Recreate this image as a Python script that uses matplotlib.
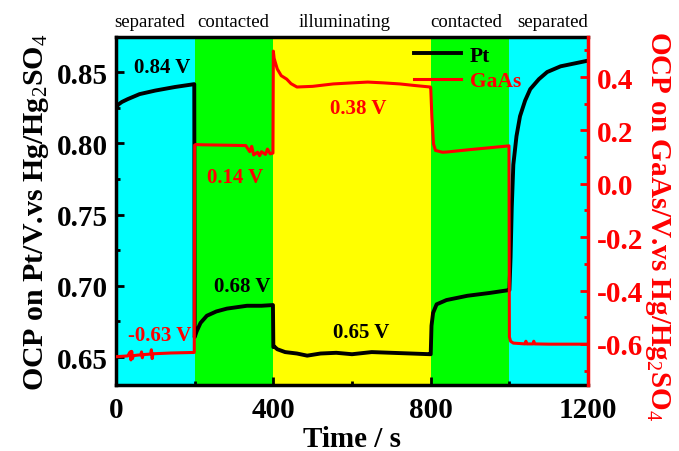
import matplotlib
matplotlib.use("Agg")
import matplotlib.pyplot as plt
from matplotlib.ticker import MultipleLocator

plt.rcParams['font.family'] = ['Liberation Serif', 'DejaVu Serif']
plt.rcParams['mathtext.fontset'] = 'custom'
plt.rcParams['mathtext.rm'] = 'Liberation Serif'
plt.rcParams['mathtext.it'] = 'Liberation Serif:italic'
plt.rcParams['mathtext.bf'] = 'Liberation Serif:bold'
plt.rcParams['axes.unicode_minus'] = False

# Stages of the experiment (start, end, colour, label)
stage_edges = [0, 200, 400, 800, 1000, 1200]
stage_colors = ['#00FFFF', '#00FF00', '#FFFF00', '#00FF00', '#00FFFF']
stage_names = ['separated', 'contacted', 'illuminating', 'contacted', 'separated']
stage_label_x = [85, 297, 580, 890, 1110]

# Pt open-circuit potential (V vs Hg/Hg2SO4)
pt_time = [0, 5, 15, 30, 60, 100, 150, 199,
           200, 205, 215, 231, 255, 282, 333, 370, 399,
           400, 402, 410, 430, 460, 486, 520, 560, 600, 650, 700, 750, 799,
           800, 802, 806, 815, 840, 893, 950, 999,
           1000, 1003, 1006, 1010, 1018, 1027, 1040, 1053, 1075, 1096, 1130, 1165, 1200]
pt_ocp = [0.824, 0.827, 0.829, 0.831, 0.8345, 0.837, 0.8395, 0.8415,
          0.664, 0.668, 0.674, 0.679, 0.682, 0.684, 0.686, 0.686, 0.6865,
          0.657, 0.6575, 0.6555, 0.6535, 0.6525, 0.651, 0.6525, 0.653, 0.652, 0.6535, 0.653, 0.6525, 0.652,
          0.652, 0.672, 0.681, 0.687, 0.690, 0.693, 0.695, 0.697,
          0.697, 0.72, 0.755, 0.785, 0.805, 0.819, 0.830, 0.838, 0.845, 0.850, 0.854, 0.856, 0.858]

# GaAs open-circuit potential (V vs Hg/Hg2SO4)
gaas_time = [0, 10, 20, 30, 36, 38, 40, 42, 44, 55, 63, 65, 67, 69, 80, 88, 90, 92, 94, 110, 140, 170, 199,
             200, 203, 220, 260, 300, 330, 340, 345, 350, 360, 365, 370, 380, 385, 392, 399,
             400, 402, 410, 420, 434, 445, 460, 500, 552, 600, 640, 680, 722, 760, 799,
             800, 803, 807, 812, 830, 841, 900, 950, 999,
             1000, 1003, 1010, 1030, 1040, 1042, 1044, 1060, 1062, 1064, 1100, 1150, 1200]
gaas_ocp = [-0.648, -0.647, -0.646, -0.645, -0.630, -0.660, -0.628, -0.655, -0.644, -0.642, -0.641, -0.630,
            -0.652, -0.640, -0.639, -0.638, -0.622, -0.655, -0.637, -0.636, -0.634, -0.633, -0.632,
            0.145, 0.147, 0.146, 0.145, 0.144, 0.143, 0.12, 0.14, 0.108, 0.118, 0.105, 0.12, 0.11, 0.13, 0.112, 0.115,
            0.497, 0.47, 0.43, 0.405, 0.392, 0.375, 0.3625, 0.365, 0.374, 0.378, 0.381, 0.378, 0.374, 0.368, 0.3625,
            0.36, 0.25, 0.15, 0.125, 0.118, 0.119, 0.128, 0.135, 0.142,
            -0.574, -0.59, -0.597, -0.599, -0.600, -0.590, -0.600, -0.600, -0.590, -0.600, -0.601, -0.601, -0.601]

# In-plot value annotations: (text, time, left-axis position, colour)
notes = [('0.84 V', 117, 0.8536, 'black'),
         ('0.14 V', 303, 0.7764, 'red'),
         ('0.38 V', 616, 0.8250, 'red'),
         ('0.68 V', 320, 0.7000, 'black'),
         ('-0.63 V', 112, 0.6655, 'red'),
         ('0.65 V', 623, 0.6676, 'black')]

fig = plt.figure(figsize=(6.79, 4.52), dpi=100)
ax = fig.add_axes([0.1708, 0.146, 0.6953, 0.770])
ax2 = ax.twinx()

for i in range(len(stage_colors)):
    ax.axvspan(stage_edges[i], stage_edges[i + 1], color=stage_colors[i], lw=0, zorder=0)
    ax.text(stage_label_x[i], 1.02, stage_names[i], transform=ax.get_xaxis_transform(),
            ha='center', va='bottom', fontsize=13.5)

l1, = ax.plot(pt_time, pt_ocp, color='black', lw=2.8, zorder=3, label='Pt')
l2, = ax2.plot(gaas_time, gaas_ocp, color='red', lw=2.2, zorder=3, label='GaAs')

ax.set_xlim(0, 1200)
ax2.set_ylim(-0.754, 0.550)

ax.xaxis.set_major_locator(MultipleLocator(400))
ax.xaxis.set_minor_locator(MultipleLocator(200))
ax.yaxis.set_major_locator(MultipleLocator(0.05))
ax.yaxis.set_minor_locator(MultipleLocator(0.025))
ax2.yaxis.set_major_locator(MultipleLocator(0.2))
ax2.yaxis.set_minor_locator(MultipleLocator(0.1))
ax.yaxis.set_major_formatter(matplotlib.ticker.FormatStrFormatter('%.2f'))
ax2.yaxis.set_major_formatter(matplotlib.ticker.FormatStrFormatter('%.1f'))
ax.set_ylim(0.6304, 0.8746)

ax.tick_params(axis='both', which='both', direction='in', width=2, labelsize=21, pad=6)
ax.tick_params(which='major', length=6)
ax.tick_params(which='minor', length=3)
ax.tick_params(axis='x', top=False, pad=8)
ax2.tick_params(axis='y', which='both', direction='in', width=2, colors='red', labelsize=21, pad=6)
ax2.tick_params(which='major', length=6)
ax2.tick_params(which='minor', length=3)

for lab in ax.get_xticklabels() + ax.get_yticklabels() + ax2.get_yticklabels():
    lab.set_fontweight('bold')

for s in ['left', 'bottom', 'top']:
    ax.spines[s].set_linewidth(2.5)
ax2.spines['right'].set_color('red')
ax2.spines['right'].set_linewidth(2.5)
for s in ['left', 'bottom', 'top']:
    ax2.spines[s].set_visible(False)

ax.set_xlabel('Time / s', fontsize=21, fontweight='bold', labelpad=1)
ax.set_ylabel(r'OCP on Pt/V.vs Hg/Hg$_2$SO$_4$', fontsize=21.5, fontweight='bold', labelpad=4)
ax2.set_ylabel(r'OCP on GaAs/V.vs Hg/Hg$_2$SO$_4$', fontsize=21, fontweight='bold',
               color='red', rotation=270, va='center', ha='center')
ax2.yaxis.set_label_coords(1.148, 0.46)

for txt, t, v, c in notes:
    ax.text(t, v, txt, color=c, fontsize=15, fontweight='bold', ha='center', va='center', zorder=5)

leg = ax2.legend(handles=[l1, l2], loc='upper left', bbox_to_anchor=(0.59, 1.03), frameon=False,
                 fontsize=15.5, handlelength=2.2, labelspacing=0.25, handletextpad=0.4)
for txt, c in zip(leg.get_texts(), ['black', 'red']):
    txt.set_color(c)
    txt.set_fontweight('bold')

fig.savefig('out.png', dpi=100)
